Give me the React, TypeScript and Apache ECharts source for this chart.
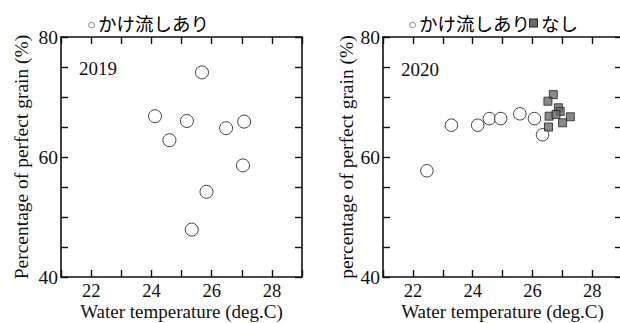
import React, { useEffect, useRef } from "react";
import * as echarts from "echarts";

// 2019: かけ流しあり
const temp2019 = [24.12, 24.6, 25.18, 25.68, 25.83, 25.34, 26.48, 27.08, 27.04];
const grain2019 = [66.8, 62.8, 66.0, 74.1, 54.2, 47.9, 64.8, 65.9, 58.6];

// 2020: かけ流しあり
const temp2020on = [22.47, 23.29, 24.17, 24.56, 24.94, 25.58, 26.07, 26.34];
const grain2020on = [57.7, 65.3, 65.3, 66.4, 66.4, 67.2, 66.4, 63.7];

// 2020: なし
const temp2020off = [26.7, 26.52, 26.87, 26.93, 26.56, 26.79, 27.27, 27.01, 26.54];
const grain2020off = [70.4, 69.3, 68.2, 67.6, 66.8, 67.1, 66.7, 65.7, 65.0];

const xTickLabels = [22, 24, 26, 28];
const yTickLabels = [40, 60, 80];

const SERIF = "'Liberation Serif', 'Times New Roman', serif";
const CJK = "'Noto Sans CJK JP', sans-serif";
const INK = "#111";
const FS = 19.5;
const FSX = 18.5;

function pairs(xs: number[], ys: number[]) {
  return xs.map((x, i) => [x, ys[i]]);
}

export default function App() {
  const ref = useRef<HTMLDivElement>(null);
  useEffect(() => {
    if (!ref.current) return;
    const chart = echarts.init(ref.current, undefined, { renderer: "svg" });

    const axisLine = { show: true, onZero: false, lineStyle: { color: INK, width: 1.6 } };
    const axisTick = { show: true, inside: true, length: 7, lineStyle: { color: INK, width: 1.4 } };

    const xMain = (gridIndex: number) => ({
      type: "value",
      gridIndex,
      position: "bottom",
      min: 21,
      max: 29,
      interval: 1,
      axisLine,
      axisTick,
      splitLine: { show: false },
      axisLabel: {
        show: true,
        margin: 6,
        color: INK,
        fontFamily: SERIF,
        fontSize: FSX,
        lineHeight: 16,
        formatter: (v: number) => (xTickLabels.includes(v) ? String(v) : ""),
      },
      name: "Water temperature (deg.C)",
      nameLocation: "middle",
      nameGap: 26.5,
      nameMoveOverlap: false,
      nameTextStyle: { color: INK, fontFamily: SERIF, fontSize: FSX + 0.5, lineHeight: 16 },
    });
    const xMirror = (gridIndex: number) => ({
      type: "value",
      gridIndex,
      position: "top",
      min: 21,
      max: 29,
      interval: 1,
      axisLine,
      axisTick,
      splitLine: { show: false },
      axisLabel: { show: false },
    });
    const yMain = (gridIndex: number, name: string, gap: number) => ({
      type: "value",
      gridIndex,
      position: "left",
      min: 40,
      max: 80,
      interval: 5,
      axisLine,
      axisTick,
      splitLine: { show: false },
      axisLabel: {
        show: true,
        margin: 3,
        color: INK,
        fontFamily: SERIF,
        fontSize: FS,
        formatter: (v: number) => (yTickLabels.includes(v) ? String(v) : ""),
      },
      name,
      nameLocation: "middle",
      nameGap: gap,
      nameMoveOverlap: false,
      nameTextStyle: { color: INK, fontFamily: SERIF, fontSize: FS },
    });
    const yMirror = (gridIndex: number) => ({
      type: "value",
      gridIndex,
      position: "right",
      min: 40,
      max: 80,
      interval: 5,
      axisLine,
      axisTick,
      splitLine: { show: false },
      axisLabel: { show: false },
    });

    const titleRich = {
      c: { fontFamily: "'DejaVu Sans', sans-serif", fontSize: 8, color: INK, padding: [3, 3, 0, 0] },
      s: {
        width: 7,
        height: 7,
        backgroundColor: "#6b6b6b",
        borderColor: "#222",
        borderWidth: 1,
        fontSize: 6,
        padding: [0, 0, 0, 0],
      },
      t: { fontFamily: CJK, fontSize: 18.5, color: "#2a2a2a" },
    };

    chart.setOption({
      animation: false,
      backgroundColor: "#fff",
      grid: [
        { left: 61, right: 318, top: 37, bottom: 46, containLabel: false, outerBoundsMode: "none" },
        { left: 383, right: -2, top: 37, bottom: 46, containLabel: false, outerBoundsMode: "none" },
      ],
      xAxis: [xMain(0), xMirror(0), xMain(1), xMirror(1)],
      yAxis: [
        yMain(0, "Percentage of perfect grain (%)", 30),
        yMirror(0),
        yMain(1, "percentage of perfect grain (%)", 27),
        yMirror(1),
      ],
      graphic: [
        {
          type: "text",
          x: 88,
          y: 23,
          style: {
            text: "{c|○}{t|かけ流しあり}",
            rich: titleRich,
            verticalAlign: "middle",
          },
        },
        {
          type: "text",
          x: 409,
          y: 23,
          style: {
            text: "{c|○}{t|かけ流しあり}{s| }{t| なし}",
            rich: titleRich,
            verticalAlign: "middle",
          },
        },
        {
          type: "text",
          x: 79,
          y: 68,
          style: { text: "2019", font: `19px ${SERIF}`, fill: INK, verticalAlign: "middle" },
        },
        {
          type: "text",
          x: 401,
          y: 69,
          style: { text: "2020", font: `19px ${SERIF}`, fill: INK, verticalAlign: "middle" },
        },
      ],
      series: [
        {
          type: "scatter",
          xAxisIndex: 0,
          yAxisIndex: 0,
          symbol: "circle",
          symbolSize: 13,
          itemStyle: { color: "#fff", borderColor: INK, borderWidth: 1 },
          data: pairs(temp2019, grain2019),
        },
        {
          type: "scatter",
          xAxisIndex: 2,
          yAxisIndex: 2,
          symbol: "circle",
          symbolSize: 12.5,
          itemStyle: { color: "#fff", borderColor: INK, borderWidth: 1 },
          data: pairs(temp2020on, grain2020on),
        },
        {
          type: "scatter",
          xAxisIndex: 2,
          yAxisIndex: 2,
          symbol: "rect",
          symbolSize: 8,
          itemStyle: { color: "#6b6b6b", borderColor: "#222", borderWidth: 1 },
          data: pairs(temp2020off, grain2020off),
        },
      ],
    });
    return () => chart.dispose();
  }, []);
  return (
    <div
      ref={ref}
      style={{ position: "fixed", left: 0, top: 0, width: 620, height: 323, background: "#fff" }}
    />
  );
}
